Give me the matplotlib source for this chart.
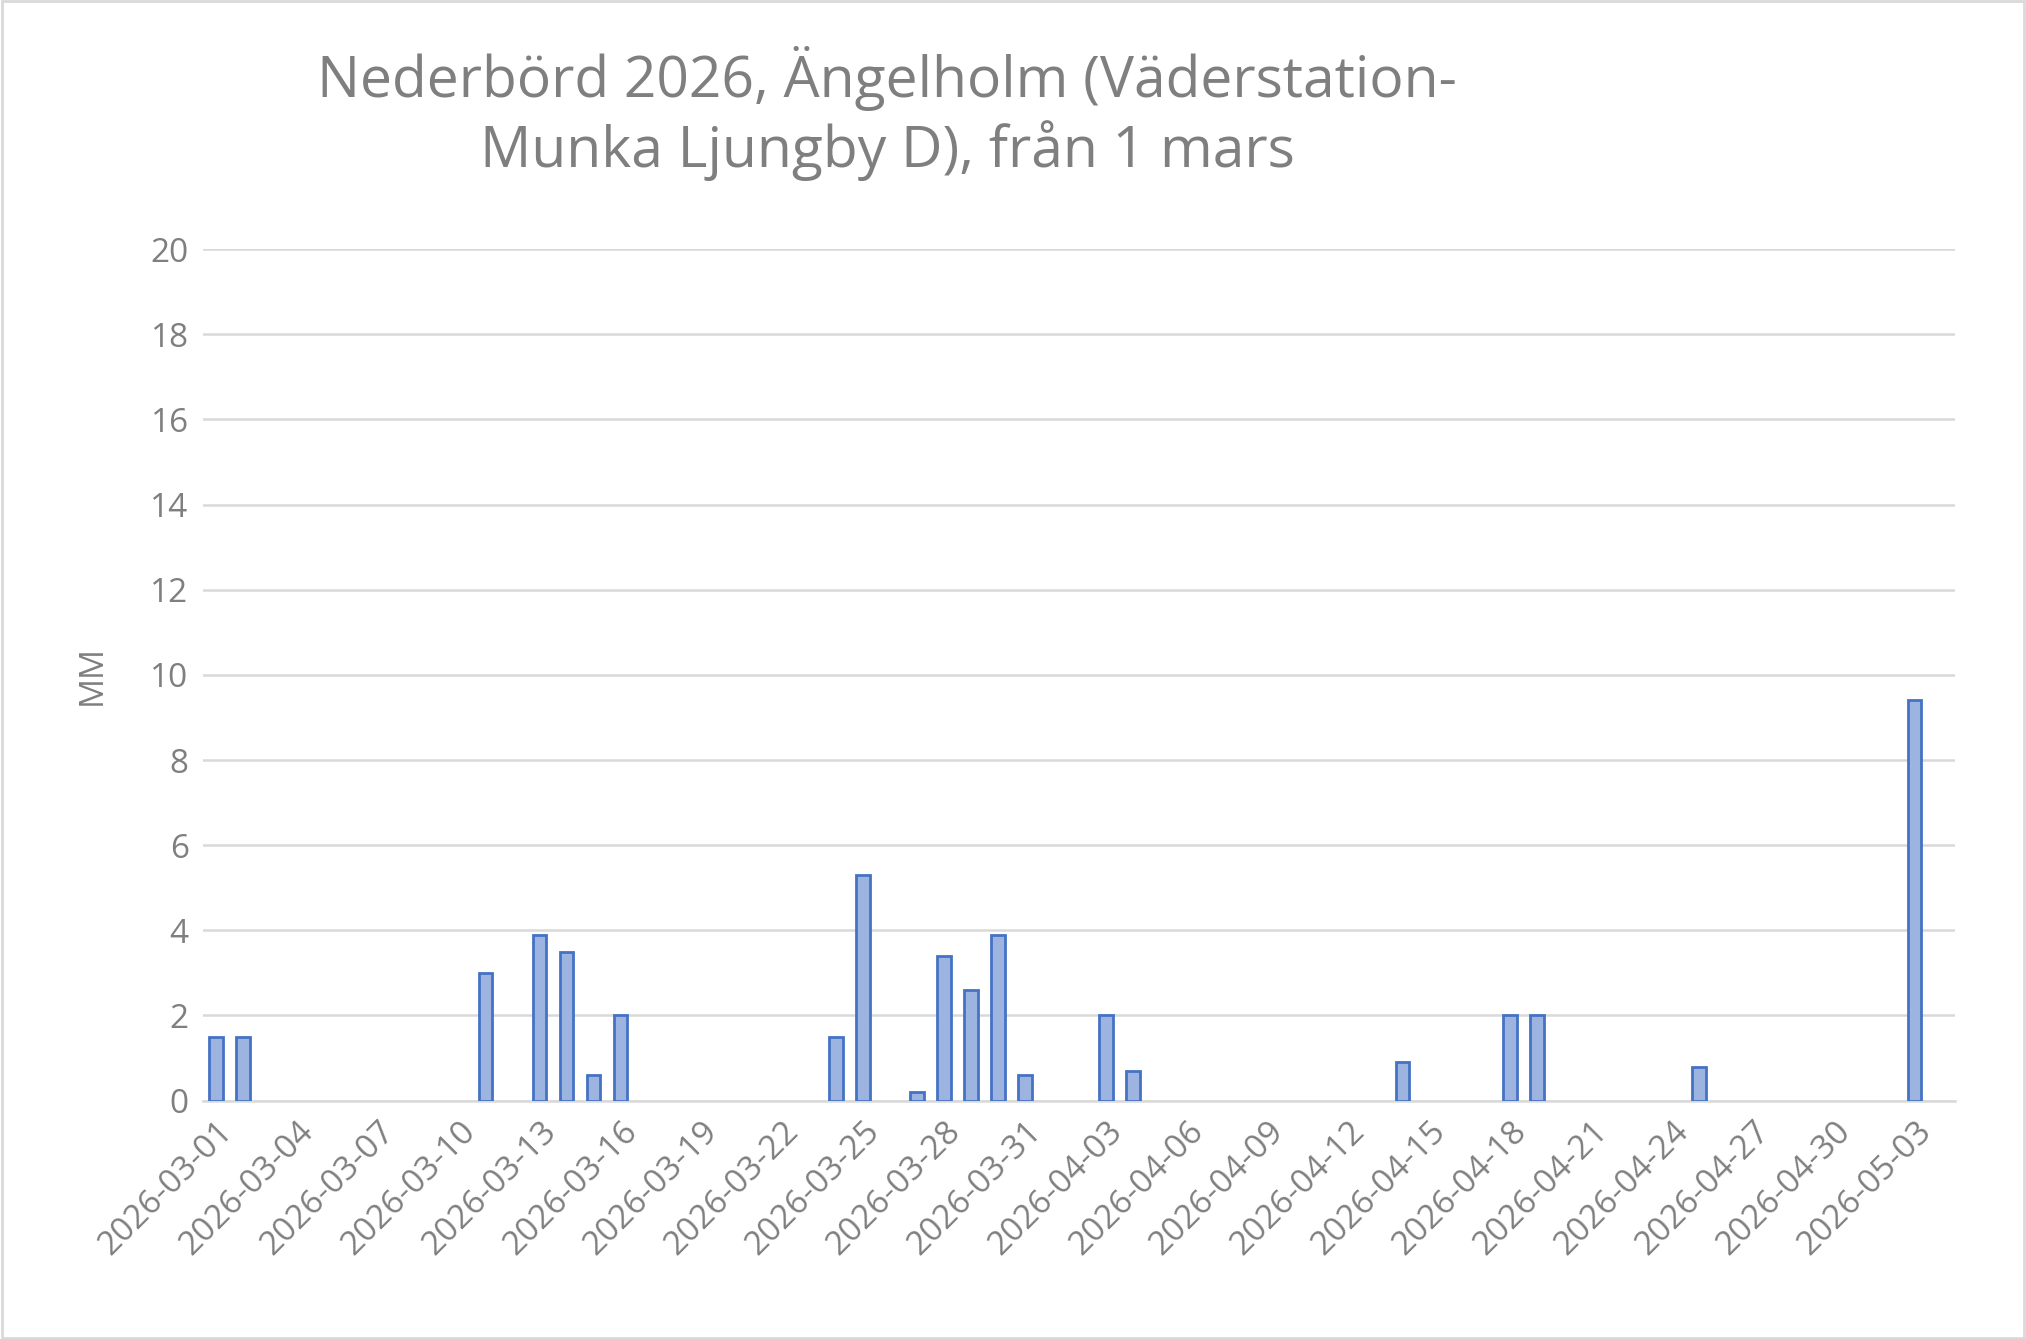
import matplotlib
matplotlib.use("Agg")
import matplotlib.pyplot as plt
import pandas as pd

plt.rcParams['font.family'] = ['Open Sans', 'DejaVu Sans']

start_date = "2026-03-01"
end_date = "2026-05-03"
rain_dates = ["2026-03-01","2026-03-02","2026-03-11","2026-03-13","2026-03-14","2026-03-15","2026-03-16",
              "2026-03-24","2026-03-25","2026-03-27","2026-03-28","2026-03-29","2026-03-30","2026-03-31",
              "2026-04-03","2026-04-04","2026-04-14","2026-04-18","2026-04-19","2026-04-25","2026-05-03"]
rain_mm = [1.5,1.5,3.0,3.9,3.5,0.6,2.0,1.5,5.3,0.2,3.4,2.6,3.9,0.6,2.0,0.7,0.9,2.0,2.0,0.8,9.4]

days = pd.date_range(start_date, end_date, freq="D")
labels = [d.strftime("%Y-%m-%d") for d in days]
pos = [labels.index(d) for d in rain_dates]

gray = "#7F7F7F"
fig = plt.figure(figsize=(20.26, 13.39), dpi=100)
ax = fig.add_axes([0.100, 0.178, 0.865, 0.636])
ax.bar(pos, rain_mm, width=0.5, color="#9DB3E0", edgecolor="#4472C4", linewidth=2, zorder=3)
ax.set_xlim(-0.5, len(labels) + 0.5)
ax.set_ylim(0, 20)
ax.set_yticks(range(0, 21, 2))
ax.grid(axis="y", color="#D9D9D9", linewidth=1.8, zorder=0)
ticks = list(range(len(labels)))[::3]
ax.set_xticks(ticks)
ax.set_xticklabels(labels[::3], rotation=45, ha="right", rotation_mode="anchor")
ax.tick_params(axis="both", colors=gray, labelsize=24, length=0, pad=10)
for sp in ["top", "right", "left"]:
    ax.spines[sp].set_visible(False)
ax.spines["bottom"].set_color("#D9D9D9")
ax.spines["bottom"].set_linewidth(1.8)
ax.set_ylabel("MM", color=gray, fontsize=24, labelpad=30)

fig.text(0.438, 0.915, "Nederbörd 2026, Ängelholm (Väderstation-\nMunka Ljungby D), från 1 mars",
         ha="center", va="center", color=gray, fontsize=41, linespacing=1.2)
fig.patches.append(plt.Rectangle((0.001, 0.001), 0.998, 0.998, transform=fig.transFigure,
                                 fill=False, edgecolor="#D9D9D9", linewidth=2))
fig.savefig("out.png", dpi=100, facecolor="white")
